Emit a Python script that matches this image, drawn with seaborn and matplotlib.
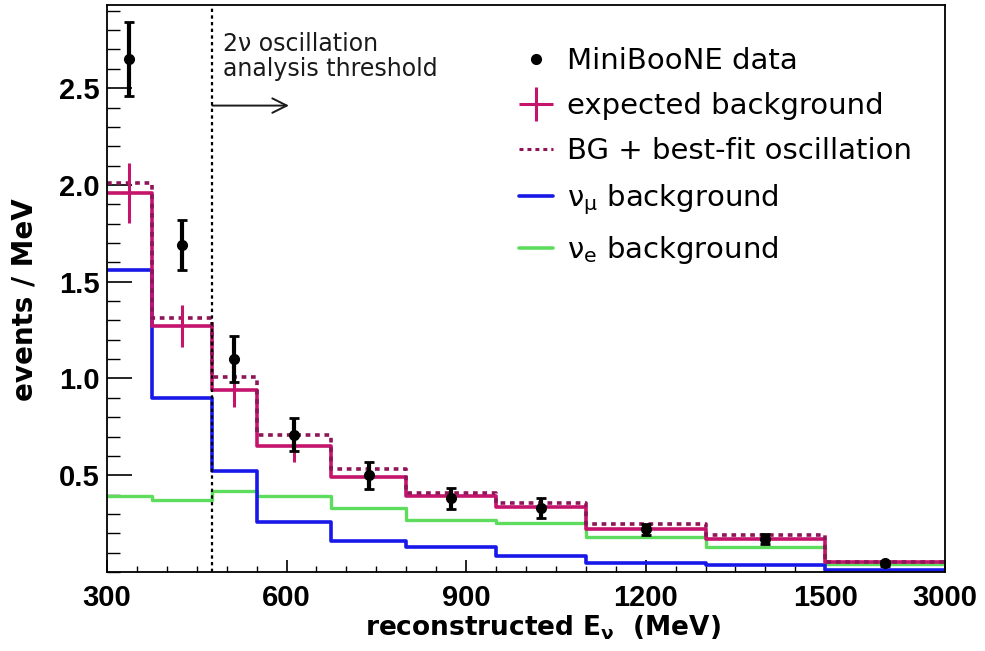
import numpy as np
import pandas as pd
import matplotlib
matplotlib.use("Agg")
import matplotlib.pyplot as plt
from matplotlib.lines import Line2D
from matplotlib.ticker import FixedLocator, FixedFormatter, MultipleLocator, FormatStrFormatter
import seaborn as sns

# Reconstructed neutrino energy binning (MeV)
bin_edges = [300, 375, 475, 550, 675, 800, 950, 1100, 1300, 1500, 3000]
bin_centers = [337.5, 425, 512.5, 612.5, 737.5, 875, 1025, 1200, 1400, 2250]

# Observed events / MeV with statistical errors
data_vals = [2.65, 1.69, 1.10, 0.71, 0.50, 0.38, 0.33, 0.22, 0.17, 0.045]
data_errs = [0.19, 0.13, 0.12, 0.085, 0.07, 0.055, 0.05, 0.03, 0.025, 0.012]

# Expected background and its systematic errors
bg_vals = [1.96, 1.27, 0.94, 0.65, 0.49, 0.39, 0.335, 0.22, 0.17, 0.05]
bg_errs = [0.155, 0.11, 0.09, 0.08, 0.05, 0.04, 0.035, 0.025, 0.02, 0.01]

# Background plus best-fit two-neutrino oscillation
osc_vals = [2.01, 1.31, 1.01, 0.71, 0.53, 0.41, 0.355, 0.25, 0.19, 0.052]

# Background components
numu_vals = [1.56, 0.90, 0.52, 0.26, 0.16, 0.13, 0.08, 0.045, 0.035, 0.01]
nue_vals = [0.39, 0.37, 0.42, 0.39, 0.33, 0.27, 0.255, 0.18, 0.13, 0.04]

x_ticks = [300, 600, 900, 1200, 1500, 3000]
x_ticklabels = ["300", "600", "900", "1200", "1500", "3000"]
y_ticks = [0.5, 1.0, 1.5, 2.0, 2.5]

threshold = 475

RED = "#c4146c"
RED_DARK = "#8e1558"
BLUE = "#1818e8"
GREEN = "#5edc5e"

sns.set_theme(style="ticks")
plt.rcParams["font.family"] = ["DejaVu Sans"]
plt.rcParams["mathtext.fontset"] = "custom"
plt.rcParams["mathtext.rm"] = "DejaVu Sans"
plt.rcParams["mathtext.it"] = "DejaVu Sans"
plt.rcParams["mathtext.bf"] = "DejaVu Sans:bold"
for key in ["text.color", "axes.labelcolor", "xtick.color", "ytick.color", "axes.edgecolor"]:
    plt.rcParams[key] = "black"


# The wide last bin (1500-3000 MeV) is compressed to look like a 200 MeV bin
def fwd(e):
    e = np.asarray(e, dtype=float)
    return np.where(e <= 1500, e, 1500 + (e - 1500) * (200.0 / 1500.0))


def inv(u):
    u = np.asarray(u, dtype=float)
    return np.where(u <= 1500, u, 1500 + (u - 1500) * (1500.0 / 200.0))


fig = plt.figure(figsize=(9.85, 6.51), dpi=100)
ax = fig.add_axes([0.1086, 0.1214, 0.8508, 0.8710])
ax.set_xscale("function", functions=(fwd, inv))

df = pd.DataFrame({
    "E": bin_centers,
    "numu": numu_vals,
    "nue": nue_vals,
    "bg": bg_vals,
    "osc": osc_vals,
})

common = dict(x="E", bins=bin_edges, element="step", fill=False, stat="count", ax=ax)
sns.histplot(data=df, weights="nue", color=GREEN, lw=2.4, **common)
sns.histplot(data=df, weights="numu", color=BLUE, lw=2.6, **common)
sns.histplot(data=df, weights="bg", color=RED, lw=2.6, **common)
sns.histplot(data=df, weights="osc", color=RED_DARK, lw=2.6, linestyle=(0, (1.3, 1.3)), **common)

# Background systematic error bars
ax.errorbar(bin_centers, bg_vals, yerr=bg_errs, fmt="none", ecolor=RED, elinewidth=2.2, zorder=4)

# Data points
ax.errorbar(bin_centers, data_vals, yerr=data_errs, fmt="o", color="black", ms=7,
            elinewidth=3, capsize=3.5, capthick=2, zorder=6)

# Analysis threshold
ax.axvline(threshold, color="black", lw=1.6, linestyle=(0, (1.5, 1.5)), zorder=5)
ax.text(494, 2.79, "2ν oscillation\nanalysis threshold", fontsize=17, color="#1a1a1a",
        ha="left", va="top", linespacing=1.05)
ax.annotate("", xy=(604, 2.41), xytext=(476, 2.41),
            arrowprops=dict(arrowstyle="->", lw=1.4, color="#1a1a1a", mutation_scale=26,
                            shrinkA=0, shrinkB=0))

ax.set_xlim(300, 3000)
ax.set_ylim(0, 2.93)

ax.xaxis.set_major_locator(FixedLocator(x_ticks))
ax.xaxis.set_major_formatter(FixedFormatter(x_ticklabels))
ax.xaxis.set_minor_locator(FixedLocator(list(range(350, 1500, 50))))
ax.yaxis.set_major_locator(FixedLocator(y_ticks))
ax.yaxis.set_major_formatter(FormatStrFormatter("%.1f"))
ax.yaxis.set_minor_locator(MultipleLocator(0.1))

ax.tick_params(axis="both", which="both", direction="in", top=False, right=False, color="black")
ax.tick_params(axis="y", which="major", length=18, width=1.2, pad=5)
ax.tick_params(axis="y", which="minor", length=9, width=1.0)
ax.tick_params(axis="x", which="major", length=9, width=1.2, pad=9)
ax.tick_params(axis="x", which="minor", length=4.5, width=1.0)
for lab in ax.get_xticklabels() + ax.get_yticklabels():
    lab.set_fontfamily("Liberation Sans")
    lab.set_fontweight("bold")
    lab.set_fontsize(21)
    lab.set_color("black")

for sp in ax.spines.values():
    sp.set_color("black")
    sp.set_linewidth(1.3)

ax.set_xlabel(r"reconstructed E$_{\mathbf{\nu}}$  (MeV)", fontsize=19, fontweight="bold")
ax.set_ylabel("events / MeV", fontsize=20, fontweight="bold")
ax.xaxis.set_label_coords(0.52, -0.073)
ax.yaxis.set_label_coords(-0.082, 0.48)

handles = [
    Line2D([], [], marker="o", color="black", ms=7, lw=0),
    Line2D([], [], marker="+", color=RED, ms=24, mew=2.2, lw=0),
    Line2D([], [], color=RED_DARK, lw=2.2, linestyle=(0, (1.3, 1.3))),
    Line2D([], [], color=BLUE, lw=2.6),
    Line2D([], [], color=GREEN, lw=2.6),
]
labels = [
    "MiniBooNE data",
    "expected background",
    "BG + best-fit oscillation",
    r"ν$_{\mu}$ background",
    r"ν$_{e}$ background",
]
ax.legend(handles, labels, loc="upper left", bbox_to_anchor=(0.492, 0.925), frameon=False,
          fontsize=21, handlelength=1.15, handletextpad=0.5, labelspacing=0.58,
          borderpad=0, borderaxespad=0)

fig.savefig("out.png", dpi=100)
